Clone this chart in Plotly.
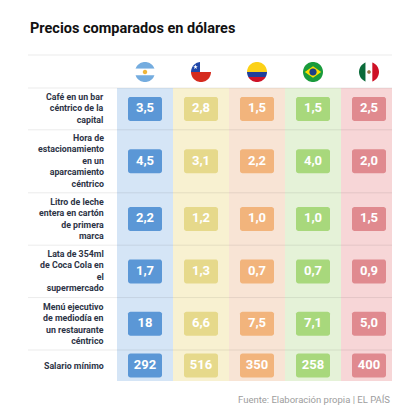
import math
import plotly.graph_objects as go

# data
countries = ["Argentina", "Chile", "Colombia", "Brasil", "México"]
items = [
    "Café en un bar<br>céntrico de la<br>capital",
    "Hora de<br>estacionamiento<br>en un<br>aparcamiento<br>céntrico",
    "Litro de leche<br>entera en cartón<br>de primera<br>marca",
    "Lata de 354ml<br>de Coca Cola en<br>el<br>supermercado",
    "Menú ejecutivo<br>de mediodía en<br>un restaurante<br>céntrico",
    "Salario mínimo",
]
argentina = [3.5, 4.5, 2.2, 1.7, 18, 292]
chile = [2.8, 3.1, 1.2, 1.3, 6.6, 516]
colombia = [1.5, 2.2, 1.0, 0.7, 7.5, 350]
brasil = [1.5, 4.0, 1.0, 0.7, 7.1, 258]
mexico = [2.5, 2.0, 1.5, 0.9, 5.0, 400]
values = [argentina, chile, colombia, brasil, mexico]

# styles
bg_colors = ["#d5e5f6", "#f8f1d1", "#f8e4d5", "#e5f2d8", "#f7d6d7"]
box_colors = ["#5b97d6", "#e6d98b", "#f2b47c", "#a8d87c", "#e08a8f"]

W, H = 420, 415
OFF = 8            # page margin around the plot div
COLW = 56          # px per column
COL0 = 145         # px centre of first column
TOP = 88           # px top of the table body
RIGHT = 392
LEFT = 28
FLAG_Y = 72
FLAG_R = 10


def xpx(px):
    return (px - COL0) / COLW


def fmt(v):
    if v >= 10:
        return f"{v:.0f}"
    return f"{v:.1f}".replace(".", ",")


# row heights from label line count
heights = []
for it in items:
    n = it.count("<br>") + 1
    heights.append(max(31, 10.6 * n + 10))
edges = [TOP]
for h in heights:
    edges.append(edges[-1] + h)
centers = [(edges[i] + edges[i + 1]) / 2 for i in range(len(items))]
BOTTOM = edges[-1]


def path(pts, cx, cy):
    return "M" + " L".join(f"{cx + dx / COLW:.4f},{cy + dy:.2f}" for dx, dy in pts) + " Z"


def clip(poly, axis, val, keep_less):
    out = []
    for i in range(len(poly)):
        p, q = poly[i], poly[(i + 1) % len(poly)]
        pin = p[axis] <= val if keep_less else p[axis] >= val
        qin = q[axis] <= val if keep_less else q[axis] >= val
        if pin:
            out.append(p)
        if pin != qin:
            t = (val - p[axis]) / (q[axis] - p[axis])
            out.append((p[0] + t * (q[0] - p[0]), p[1] + t * (q[1] - p[1])))
    return out


def disc_part(x0, x1, y0, y1, r, ox=0, oy=0):
    poly = [(ox + r * math.cos(2 * math.pi * k / 60), oy + r * math.sin(2 * math.pi * k / 60)) for k in range(60)]
    poly = clip(poly, 0, x0, False)
    poly = clip(poly, 0, x1, True)
    poly = clip(poly, 1, y0, False)
    poly = clip(poly, 1, y1, True)
    return poly


def star(ox, oy, ro, ri):
    pts = []
    for k in range(10):
        a = -math.pi / 2 + k * math.pi / 5
        rr = ro if k % 2 == 0 else ri
        pts.append((ox + rr * math.cos(a), oy + rr * math.sin(a)))
    return pts


shapes = []


def add_poly(pts, cx, cy, color):
    shapes.append(dict(type="path", path=path(pts, cx, cy), fillcolor=color,
                       line=dict(width=0), layer="below", xref="x", yref="y"))


# column backgrounds
for i in range(len(countries)):
    x0 = xpx(COL0 + COLW * i - COLW / 2)
    x1 = min(xpx(COL0 + COLW * i + COLW / 2), xpx(RIGHT))
    shapes.append(dict(type="rect", x0=x0, x1=x1, y0=TOP, y1=BOTTOM, fillcolor=bg_colors[i],
                       line=dict(width=0), layer="below", xref="x", yref="y"))

# separator lines
for y in [55] + edges[:-1]:
    shapes.append(dict(type="line", x0=xpx(LEFT), x1=xpx(RIGHT), y0=y, y1=y,
                       line=dict(color="rgba(0,0,0,0.08)", width=1), layer="below", xref="x", yref="y"))

# value boxes (rounded)
bw, bh, rc = 34, 24, 2.5
for i in range(len(countries)):
    for j in range(len(items)):
        cy = centers[j]
        pts = []
        for (ox, oy, a0) in [(bw / 2 - rc, -bh / 2 + rc, -90), (bw / 2 - rc, bh / 2 - rc, 0),
                             (-bw / 2 + rc, bh / 2 - rc, 90), (-bw / 2 + rc, -bh / 2 + rc, 180)]:
            for k in range(5):
                a = math.radians(a0 + 22.5 * k)
                pts.append((ox + rc * math.cos(a), oy + rc * math.sin(a)))
        add_poly(pts, i, cy, box_colors[i])

# flags
r = FLAG_R
fy = FLAG_Y
# Argentina
add_poly(disc_part(-r, r, -r, -r / 3, r), 0, fy, "#74acdf")
add_poly(disc_part(-r, r, -r / 3, r / 3, r), 0, fy, "#ffffff")
add_poly(disc_part(-r, r, r / 3, r, r), 0, fy, "#74acdf")
add_poly(disc_part(-r, r, -r, r, 2.2), 0, fy, "#f0b63a")
# Chile
add_poly(disc_part(-r, r, -r, 0, r), 1, fy, "#ffffff")
add_poly(disc_part(-r, -0.1 * r, -r, 0, r), 1, fy, "#1f47a8")
add_poly(disc_part(-r, r, 0, r, r), 1, fy, "#d52b1e")
add_poly(star(-0.55 * r, -0.5 * r, 2.4, 1.0), 1, fy, "#ffffff")
# Colombia
add_poly(disc_part(-r, r, -r, 0, r), 2, fy, "#fcd116")
add_poly(disc_part(-r, r, 0, 0.5 * r, r), 2, fy, "#1f3f9a")
add_poly(disc_part(-r, r, 0.5 * r, r, r), 2, fy, "#ce1126")
# Brasil
add_poly(disc_part(-r, r, -r, r, r), 3, fy, "#1a9b3c")
add_poly([(-0.82 * r, 0), (0, -0.58 * r), (0.82 * r, 0), (0, 0.58 * r)], 3, fy, "#fedf00")
add_poly(disc_part(-r, r, -r, r, 0.36 * r), 3, fy, "#1d3f87")
# Mexico
add_poly(disc_part(-r, -r / 3, -r, r, r), 4, fy, "#0b6b3a")
add_poly(disc_part(-r / 3, r / 3, -r, r, r), 4, fy, "#ffffff")
add_poly(disc_part(r / 3, r, -r, r, r), 4, fy, "#ce1126")
add_poly(disc_part(-r, r, -r, r, 1.8), 4, fy, "#9a7240")

fig = go.Figure()

for i, name in enumerate(countries):
    fig.add_trace(go.Scatter(
        x=[i] * len(items),
        y=centers,
        mode="text",
        text=[fmt(v) for v in values[i]],
        textfont=dict(family="Roboto", size=13, color="white", weight="bold"),
        name=name,
        hoverinfo="skip",
        showlegend=False,
    ))


def px_paper(px, py):
    return (px - OFF) / W, 1 - (py - OFF) / H


tx, ty = px_paper(LEFT, 28)
fx, fy2 = px_paper(RIGHT, 399)
lx, _ = px_paper(106, 0)
annotations = [
    dict(text="Precios comparados en dólares", x=tx, y=ty, xref="paper", yref="paper",
         xanchor="left", yanchor="middle", showarrow=False,
         font=dict(family="Roboto", size=14.5, color="#111111", weight="bold")),
    dict(text="Fuente: Elaboración propia | EL PAÍS", x=fx, y=fy2, xref="paper", yref="paper",
         xanchor="right", yanchor="middle", showarrow=False,
         font=dict(family="Roboto", size=9.5, color="#9d9d9d")),
]
for j, it in enumerate(items):
    annotations.append(dict(text=it, x=lx, y=centers[j], xref="paper", yref="y",
                            xanchor="right", yanchor="middle", align="right", showarrow=False,
                            font=dict(family="Roboto", size=8.8, color="#2d3446", weight="bold")))

fig.update_layout(
    width=W, height=H,
    margin=dict(l=0, r=0, t=0, b=0),
    paper_bgcolor="white", plot_bgcolor="white",
    xaxis=dict(range=[xpx(OFF), xpx(W + OFF)], visible=False, fixedrange=True),
    yaxis=dict(range=[H + OFF, OFF], visible=False, fixedrange=True),
    shapes=shapes,
    annotations=annotations,
    showlegend=False,
)

fig.write_html("out.html")
